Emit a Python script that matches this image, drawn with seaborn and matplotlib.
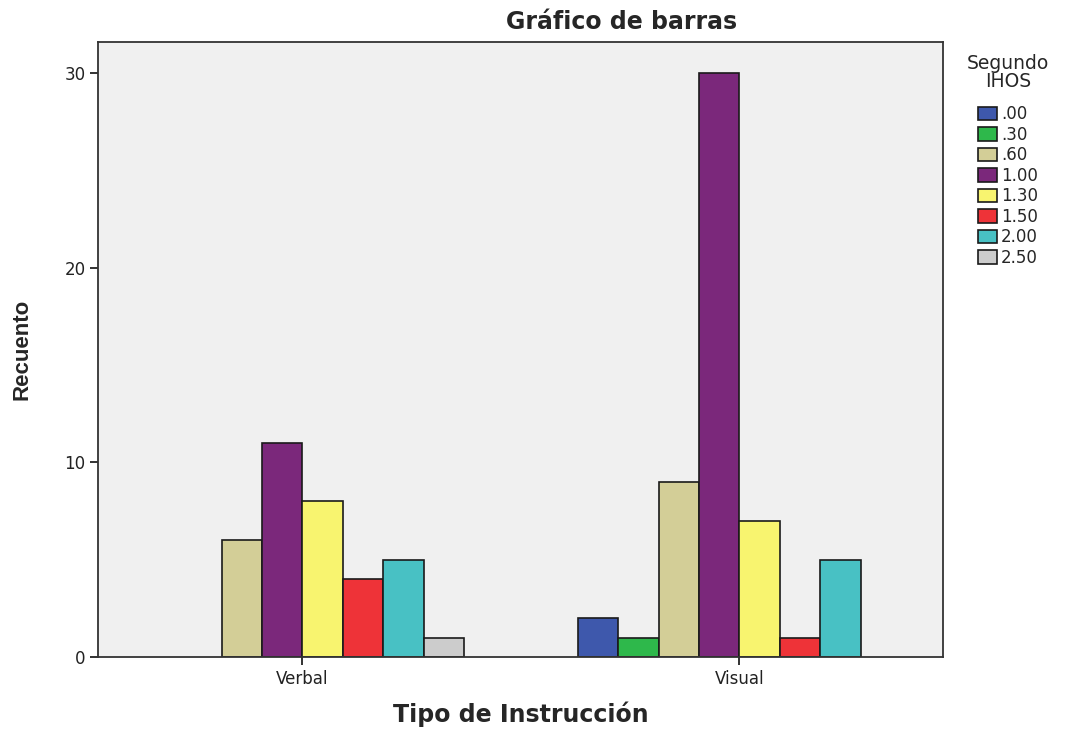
import matplotlib
matplotlib.use("Agg")
import matplotlib.pyplot as plt
import matplotlib.patches as mpatches
import seaborn as sns
import pandas as pd

# Datos
tipos = ["Verbal", "Visual"]
niveles_ihos = [".00", ".30", ".60", "1.00", "1.30", "1.50", "2.00", "2.50"]
recuento_verbal = [0, 0, 6, 11, 8, 4, 5, 1]
recuento_visual = [2, 1, 9, 30, 7, 1, 5, 0]

colores = ["#3E58AC", "#2EB84B", "#D3CE97", "#7B287B",
           "#F8F46F", "#EE3338", "#48C1C4", "#CCCCCC"]

filas = []
for tipo, valores in zip(tipos, [recuento_verbal, recuento_visual]):
    for nivel, v in zip(niveles_ihos, valores):
        filas.append({"Tipo de Instrucción": tipo, "Segundo IHOS": nivel, "Recuento": v})
df = pd.DataFrame(filas)

sns.set_style("white")
plt.rcParams["font.family"] = ["DejaVu Sans"]

fig = plt.figure(figsize=(10.71, 7.30), dpi=100)
ax = fig.add_axes([0.0915, 0.1, 0.789, 0.8425])
ax.set_facecolor("#F0F0F0")

sns.barplot(
    data=df, x="Tipo de Instrucción", y="Recuento",
    hue="Segundo IHOS", hue_order=niveles_ihos, order=tipos,
    palette=colores, width=0.74, edgecolor="#1a1a1a", linewidth=1.2,
    saturation=1, legend=False, ax=ax,
)

# las barras con recuento 0 no se dibujan
for p in ax.patches:
    if p.get_height() == 0:
        p.set_visible(False)

ax.set_xlim(-0.468, 1.466)
ax.set_ylim(0, 31.6)
ax.set_yticks([0, 10, 20, 30])
ax.tick_params(axis="both", direction="out", length=6, width=1.3,
               color="#222222", labelsize=12, labelcolor="#222222",
               left=True, bottom=True, pad=3)
for s in ax.spines.values():
    s.set_color("#333333")
    s.set_linewidth(1.3)

ax.set_xlabel("Tipo de Instrucción", fontsize=17, fontweight="bold", labelpad=10)
ax.set_ylabel("")
fig.text(0.021, 0.522, "Recuento", rotation=90, ha="center", va="center",
         fontsize=16, fontweight="bold", family=["Liberation Sans", "DejaVu Sans"])

fig.text(0.58, 0.970, "Gráfico de barras", ha="center", va="center",
         fontsize=17, fontweight="bold")

handles = [mpatches.Patch(facecolor=c, edgecolor="#1a1a1a", linewidth=1.2)
           for c in colores]
leg = ax.legend(handles, niveles_ihos, title="Segundo\nIHOS", loc="upper left",
                bbox_to_anchor=(0.8966, 0.935), bbox_transform=fig.transFigure,
                frameon=False, fontsize=12, title_fontsize=13.5,
                handlelength=1.15, handleheight=0.85, handletextpad=0.2,
                labelspacing=0.15, borderaxespad=0)
leg.get_title().set_multialignment("center")
leg.get_title().set_linespacing(0.95)
leg._legend_box.sep = 10

fig.savefig("out.png", dpi=100)
